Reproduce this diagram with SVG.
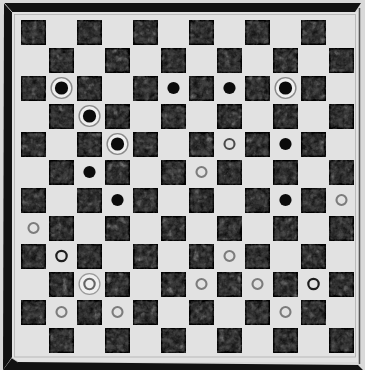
<svg xmlns="http://www.w3.org/2000/svg" width="365" height="370" viewBox="0 0 365 370">
<style>
.frame{fill:#121212}
.bm{fill:#0b0b0b}
.ring{fill:none;stroke:#7c7c7c;stroke-width:2.1}
.ringd{fill:none;stroke:#1e1e1e;stroke-width:2.2}
.kring{fill:#efefef;stroke:#8a8a8a;stroke-width:1.4}
</style>
<defs>
<pattern id="checks" patternUnits="userSpaceOnUse" x="21" y="20" width="56" height="56">
<rect x="0.7" y="0.7" width="23.6" height="23.6" fill="#5e5e5e" stroke="#2e2e2e" stroke-width="1.4"/>
<rect x="28.7" y="28.7" width="23.6" height="23.6" fill="#5e5e5e" stroke="#2e2e2e" stroke-width="1.4"/>
</pattern>
<filter id="tex" x="0" y="0" width="1" height="1" color-interpolation-filters="sRGB">
<feTurbulence type="fractalNoise" baseFrequency="0.16" numOctaves="3" seed="7" result="n"/>
<feColorMatrix in="n" type="saturate" values="0" result="g"/>
<feComposite in="SourceGraphic" in2="g" operator="arithmetic" k1="0" k2="1" k3="0.85" k4="-0.42" result="m"/>
<feComposite in="m" in2="SourceGraphic" operator="in" result="c"/>
<feGaussianBlur in="c" stdDeviation="0.45"/>
</filter>
<g id="bk"><circle r="10.4" class="kring"/><circle r="6.6" class="bm"/></g>
<circle id="bmn" r="6.1" class="bm"/>
<circle id="wm" r="5" class="ring"/>
<circle id="wmd" r="5.2" class="ringd"/>
</defs>
<rect width="365" height="370" fill="#d9d9d9"/>
<g id="board">
<rect x="12" y="12" width="346" height="350" fill="#e2e2e2"/>
<rect x="14.5" y="14.5" width="341" height="342.5" fill="none" stroke="#b0b0b0" stroke-width="0.8"/>
<line x1="359.5" y1="8" x2="359.5" y2="364" stroke="#555" stroke-width="1.5"/>
<polygon class="frame" points="4,3 361,3 355,12 12,12"/>
<polygon class="frame" points="4,3 12,12 12,357 3,370"/>
<polygon class="frame" points="12,358 18,362 358,365 363,370 3,370"/>
<line x1="4" y1="3" x2="12" y2="12" stroke="#cfcfcf" stroke-width="0.8"/>
<line x1="12" y1="358" x2="18" y2="362" stroke="#cfcfcf" stroke-width="0.8"/>
<rect x="21" y="20" width="333" height="333" fill="url(#checks)" filter="url(#tex)"/>
</g>
<g id="pieces">
<use href="#bk" x="61.5" y="88"/>
<use href="#bmn" x="173.5" y="88"/>
<use href="#bmn" x="229.5" y="88"/>
<use href="#bk" x="285.5" y="88"/>
<use href="#bk" x="89.5" y="116"/>
<use href="#bk" x="117.5" y="144"/>
<circle cx="229.5" cy="144" r="5" fill="none" stroke="#4a4a4a" stroke-width="2.1"/>
<use href="#bmn" x="285.5" y="144"/>
<use href="#bmn" x="89.5" y="172"/>
<use href="#wm" x="201.5" y="172"/>
<use href="#bmn" x="117.5" y="200"/>
<use href="#bmn" x="285.5" y="200"/>
<use href="#wm" x="341.5" y="200"/>
<use href="#wm" x="33.5" y="228"/>
<use href="#wmd" x="61.5" y="256"/>
<use href="#wm" x="229.5" y="256"/>
<g id="wk" transform="translate(89.5 284)"><circle r="10.4" fill="#efefef" stroke="#9a9a9a" stroke-width="1.3"/><circle r="5.2" fill="none" stroke="#666" stroke-width="2.1"/></g>
<use href="#wm" x="201.5" y="284"/>
<use href="#wm" x="257.5" y="284"/>
<use href="#wmd" x="313.5" y="284"/>
<use href="#wm" x="61.5" y="312"/>
<use href="#wm" x="117.5" y="312"/>
<use href="#wm" x="285.5" y="312"/>
</g>
</svg>
